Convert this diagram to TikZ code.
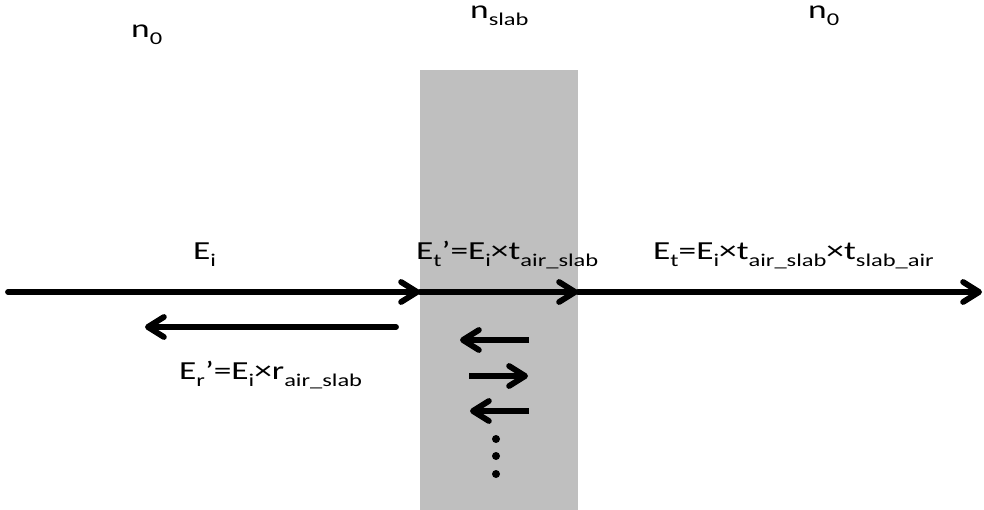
\documentclass[tikz,border=0pt]{standalone}
\usepackage{fontspec}
\usepackage{graphicx}
\setmainfont{Carlito}
\usetikzlibrary{arrows.meta}
\newcommand\sbs[1]{\raisebox{-7pt}{\fontsize{18}{18}\selectfont #1}}
\newcommand\wtxt[1]{\scalebox{1.36}[1]{#1}}
\begin{document}
\begin{tikzpicture}[x=1pt,y=-1pt,
  ray/.style={line width=5.8pt,line cap=round,-{Straight Barb[length=16pt,width=20pt,line cap=round,line join=round]}},
  small/.style={line width=5.8pt,-{Straight Barb[length=16pt,width=20pt,line cap=round,line join=round]}},
  lbl/.style={font=\fontsize{26}{30}\selectfont,inner sep=0pt,anchor=base west}]
\useasboundingbox (0,0) rectangle (984,510);
\fill[fill={rgb,255:red,191;green,191;blue,191}] (420,70) rectangle (578,510);
\coordinate (a0) at (8,292);
\coordinate (a1) at (420,292);
\coordinate (a2) at (578,292);
\coordinate (a3) at (982,292);
\draw[ray] (a0) -- (a1);
\draw[ray] (a1) -- (a2);
\draw[ray] (a2) -- (a3);
\coordinate (r0) at (396,327);
\coordinate (r1) at (145,327);
\draw[ray] (r0) -- (r1);
\coordinate (s1a) at (529,340);
\coordinate (s1b) at (460,340);
\coordinate (s2a) at (469,376);
\coordinate (s2b) at (528,376);
\coordinate (s3a) at (529,411);
\coordinate (s3b) at (470,411);
\draw[small] (s1a) -- (s1b);
\draw[small] (s2a) -- (s2b);
\draw[small] (s3a) -- (s3b);
\fill (496,439) circle (4) (496,456) circle (4) (496,474) circle (4);
\node[lbl] (n0l) at (131,38) {\wtxt{n\sbs{0}}};
\node[lbl] (ns) at (470,19) {\wtxt{n\sbs{slab}}};
\node[lbl] (n0r) at (808,19) {\wtxt{n\sbs{0}}};
\node[lbl] (ei) at (193,260) {\wtxt{E\sbs{i}}};
\node[lbl] (etp) at (416,260) {\wtxt{E\sbs{t}’=E\sbs{i}×t\sbs{air\_slab}}};
\node[lbl] (et) at (653,260) {\wtxt{E\sbs{t}=E\sbs{i}×t\sbs{air\_slab}×t\sbs{slab\_air}}};
\node[lbl] (erp) at (179,379) {\wtxt{E\sbs{r}’=E\sbs{i}×r\sbs{air\_slab}}};
\end{tikzpicture}
\end{document}
